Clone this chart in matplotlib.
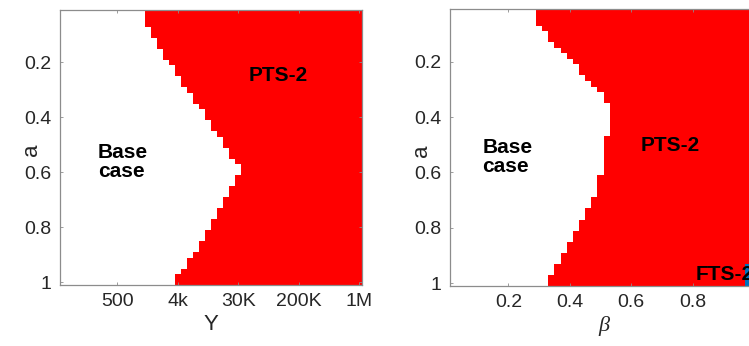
import numpy as np
import matplotlib
matplotlib.use("Agg")
import matplotlib.pyplot as plt
from matplotlib.colors import ListedColormap

plt.rcParams['font.family'] = ['Liberation Sans', 'DejaVu Sans']

# ---- data ----
a_values = np.round(np.arange(1, 51) * 0.02, 2)          # rows (a = 0.02 ... 1)
beta_values = np.round(np.arange(1, 51) * 0.02, 2)       # columns of right panel
y_columns = np.arange(1, 51)                              # column index of Y grid (left panel)
y_tick_columns = [10, 20, 30, 40, 50]
y_tick_labels = ['500', '4k', '30K', '200K', '1M']
a_ticks = [0.2, 0.4, 0.6, 0.8, 1]
a_tick_labels = ['0.2', '0.4', '0.6', '0.8', '1']
beta_ticks = [0.2, 0.4, 0.6, 0.8, 1]
beta_tick_labels = ['0.2', '0.4', '0.6', '0.8', '1']

# number of "Base case" columns (from the left) for each a row
base_cols_left = [14, 14, 14, 15, 15, 16, 16, 17, 17, 18, 19, 19, 20, 20, 21, 22, 22, 23, 24, 24,
                  25, 25, 26, 27, 27, 28, 28, 29, 30, 30, 29, 29, 28, 28, 27, 27, 26, 26, 25, 25,
                  24, 24, 23, 23, 22, 21, 21, 20, 19, 19]
base_cols_right = [14, 14, 14, 15, 16, 16, 17, 18, 19, 20, 21, 21, 22, 23, 24, 25, 25, 26, 26, 26,
                   26, 26, 26, 25, 25, 25, 25, 25, 25, 25, 24, 24, 24, 24, 23, 23, 22, 22, 21, 21,
                   20, 20, 19, 19, 18, 18, 17, 17, 16, 16]
# number of FTS-2 columns (from the right) for each a row in right panel
fts_cols_right = [0] * 46 + [2, 2, 2, 2]

regime_colors = ['#FFFFFF', '#FF0000', '#0072BD']


def regime_matrix(base_cols, fts_cols=None):
    z = np.ones((len(base_cols), 50))
    for r, n in enumerate(base_cols):
        z[r, :n] = 0
    if fts_cols is not None:
        for r, m in enumerate(fts_cols):
            if m > 0:
                z[r, 50 - m:] = 2
    return z


def edges(v):
    v = np.asarray(v, float)
    d = v[1] - v[0]
    return np.concatenate([v - d / 2, [v[-1] + d / 2]])


W, H = 749, 346
fig = plt.figure(figsize=(W / 100, H / 100), dpi=100)
cmap = ListedColormap(regime_colors)

axL = fig.add_axes([60 / W, 1 - 285 / H, 302 / W, 275 / H])
axR = fig.add_axes([450 / W, 1 - 286 / H, 307 / W, 277 / H])

zL = regime_matrix(base_cols_left)
zR = regime_matrix(base_cols_right, fts_cols_right)

axL.pcolormesh(edges(y_columns), edges(a_values), zL, cmap=cmap, vmin=0, vmax=2,
               shading='flat', antialiased=False, linewidth=0)
axR.pcolormesh(edges(beta_values), edges(a_values), zR, cmap=cmap, vmin=0, vmax=2,
               shading='flat', antialiased=False, linewidth=0)

ya = edges(a_values)
for ax in (axL, axR):
    ax.set_ylim(ya[-1], ya[0])
    ax.set_yticks(a_ticks)
    ax.set_yticklabels(a_tick_labels)
    ax.tick_params(direction='in', length=2.5, width=0.6, color='#8c8c8c',
                   labelsize=14, labelcolor='#262626', top=True, right=True, pad=6)
    for s in ax.spines.values():
        s.set_color('#8c8c8c')
        s.set_linewidth(0.9)
    ax.set_ylabel('a', fontsize=16, color='#262626')

xe = edges(y_columns)
axL.set_xlim(xe[0], xe[-1])
axL.set_xticks(y_tick_columns)
axL.set_xticklabels(y_tick_labels)
axL.set_xlabel('Y', fontsize=16, color='#262626', labelpad=3)

be = edges(beta_values)
axR.set_xlim(be[0], be[-1])
axR.set_xticks(beta_ticks)
axR.set_xticklabels(beta_tick_labels)
axR.set_xlabel('β', fontsize=16, color='#262626', labelpad=3,
               family=['Liberation Serif', 'DejaVu Serif'], style='italic')

axL.yaxis.set_label_coords(-0.06, 0.49)
axR.yaxis.set_label_coords(-0.06, 0.49)

bold = dict(fontsize=15, fontweight='bold', color='black')
axL.text(36.6, 0.247, 'PTS-2', ha='center', va='center', **bold)
axL.text(6.8, 0.561, 'Base\ncase', ha='left', va='center', linespacing=1.0, **bold)
axR.text(0.728, 0.502, 'PTS-2', ha='center', va='center', **bold)
axR.text(0.115, 0.545, 'Base\ncase', ha='left', va='center', linespacing=1.0, **bold)
axR.text(0.810, 0.968, 'FTS-2', ha='left', va='center', **bold)

fig.savefig('out.png', dpi=100)
